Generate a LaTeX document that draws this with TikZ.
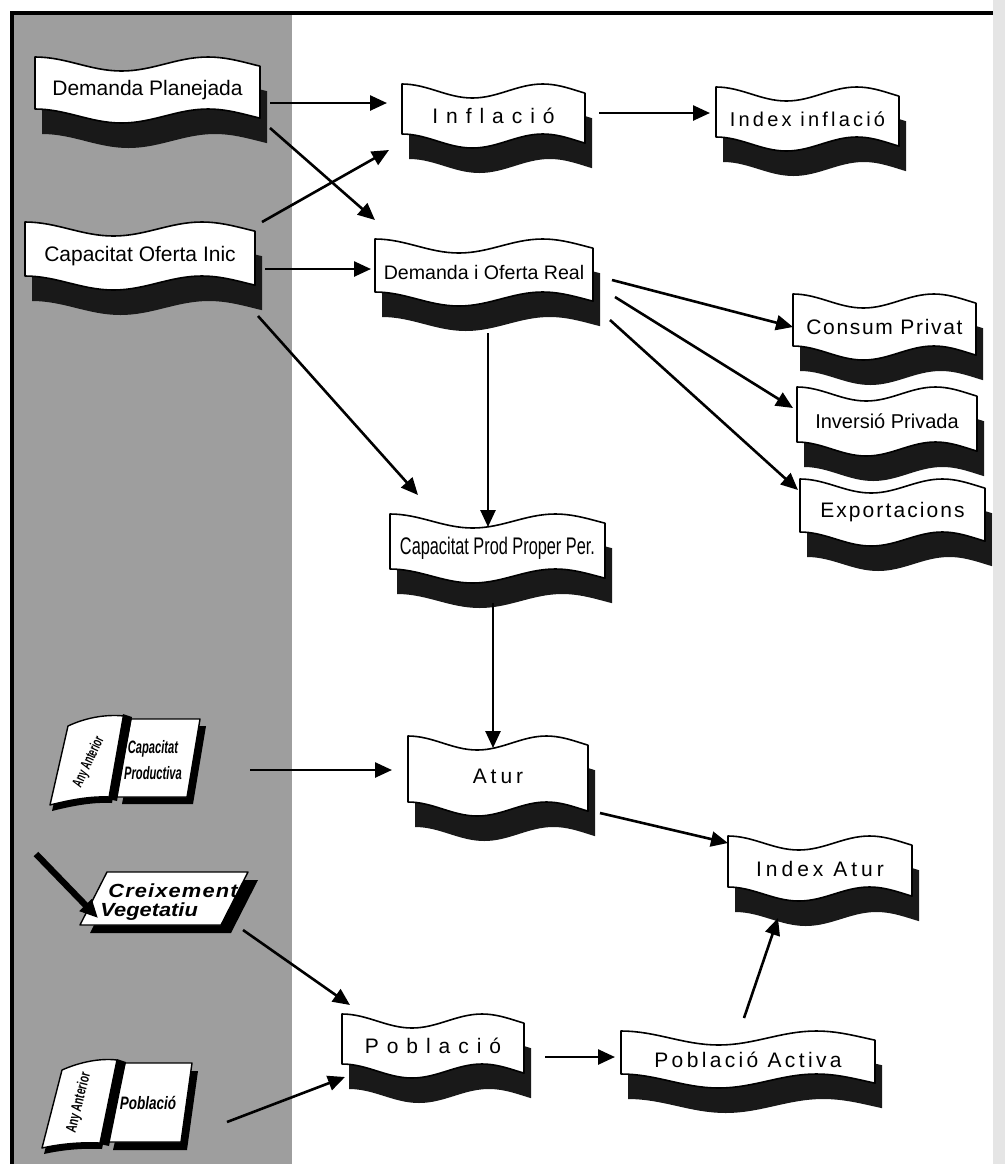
\documentclass[tikz,border=0pt]{standalone}
\usepackage{fontspec}
\setmainfont{Liberation Sans}
\usetikzlibrary{arrows.meta, calc}
\tikzset{
		arr/.style={-{Triangle[length=8.5pt,width=7.5pt]}, line width=1.3pt},
		flag label/.style={inner sep=0pt, outer sep=0pt, align=center},
		flag edge/.style={draw=black, line width=0.8pt, fill=white, line join=round},
		flag shadow/.style={fill=black!90},
		panel/.style={fill=black!38},
		page/.style={draw=black, line width=0.7pt, fill=white, line join=round},
		icon text/.style={inner sep=0pt, outer sep=0pt, align=center}
	}
\newcommand{\spaced}[2]{{\addfontfeature{LetterSpace=#1}#2}}
\newcommand{\squeeze}[2]{{\addfontfeature{FakeStretch=#1}#2}}
% wavy banner: name, centre, width, height, text
\newcommand{\flag}[5]{%
	\begin{scope}[shift={(#2)}]
		\fill[flag shadow, shift={(7,25)}]
			plot[domain=-#3/2:#3/2, samples=40] (\x, {-#4/2-7*cos(468*(\x/#3+0.5))})
			-- plot[domain=#3/2:-#3/2, samples=40] (\x, {#4/2-7*cos(468*(\x/#3+0.5))}) -- cycle;
		\path[flag edge]
			plot[domain=-#3/2:#3/2, samples=40] (\x, {-#4/2-7*cos(468*(\x/#3+0.5))})
			-- plot[domain=#3/2:-#3/2, samples=40] (\x, {#4/2-7*cos(468*(\x/#3+0.5))}) -- cycle;
	\end{scope}
	\node[flag label, minimum width=#3*0.5pt, minimum height=(#4+12)*0.5pt] (#1) at (#2) {#5};
}

\begin{document}
\begin{tikzpicture}[x=0.5pt, y=-0.5pt]
		\useasboundingbox (0,0) rectangle (1005,1164);
		\fill[black!10] (993,0) rectangle (1005,1164);
		\fill[panel] (12,13) rectangle (292,1164);
		\draw[line width=1.8pt] (12,1164) -- (12,13) -- (993,13);

		\flag{demPlan}{147.5,90}{225}{52}{\fontsize{10.5}{12}\selectfont Demanda Planejada}
		\flag{capOferta}{140,256}{230}{54}{\fontsize{10.5}{12}\selectfont Capacitat Oferta Inic}
		\flag{inflacio}{493.5,116}{183}{50}{\fontsize{10.5}{12}\selectfont\spaced{38}{Inflació}}
		\flag{idxInfl}{807.5,119}{183}{50}{\fontsize{10}{12}\selectfont\spaced{16}{Index inflació}}
		\flag{demOferta}{484,272.5}{218}{53}{\fontsize{9.8}{12}\selectfont Demanda i Oferta Real}
		\flag{consum}{884.5,327}{183}{52}{\fontsize{10.5}{12}\selectfont\spaced{8}{Consum Privat}}
		\flag{inversio}{887,421.5}{180}{55}{\fontsize{10}{12}\selectfont Inversió Privada}
		\flag{export}{892.5,512.5}{185}{53}{\fontsize{10.5}{12}\selectfont\spaced{10}{Exportacions}}
		\flag{capProd}{497.5,548.5}{215}{55}{\fontsize{12}{12}\selectfont\squeeze{0.68}{Capacitat Prod Proper Per.}}
		\flag{atur}{498,776}{180}{66}{\fontsize{10.5}{12}\selectfont\spaced{19}{Atur}}
		\flag{idxAtur}{820,868.5}{184}{51}{\fontsize{10.5}{12}\selectfont\spaced{19}{Index Atur}}
		\flag{poblacio}{433,1046}{182}{50}{\fontsize{10.5}{12}\selectfont\spaced{38}{Població}}
		\flag{pobActiva}{748,1059.5}{254}{43}{\fontsize{10.5}{12}\selectfont\spaced{16}{Població Activa}}

		% book: any anterior / capacitat productiva
		\fill[shift={(2,6)}] (50,805) -- (68,726) .. controls (85,718) and (105,714) .. (124,716) -- (110,797) .. controls (90,796) and (70,800) .. (50,805) -- cycle;
		\path[page] (50,805) -- (68,726) .. controls (85,718) and (105,714) .. (124,716) -- (110,797) .. controls (90,796) and (70,800) .. (50,805) -- cycle;
		\fill[shift={(6,7)}] (131,719) -- (200,719) -- (187,797) -- (116,797) -- cycle;
		\path[page] (131,719) -- (200,719) -- (187,797) -- (116,797) -- cycle;
		\fill (123,714) -- (132,717) -- (117,801) -- (108,799) -- cycle;
		\node[icon text, rotate=65, font={\fontsize{7.5}{8}\selectfont\bfseries\addfontfeature{FakeStretch=0.6}}] (capAny) at (89,762) {Any Anterior};
		\node[icon text, font={\fontsize{9}{13}\selectfont\bfseries\itshape\addfontfeature{FakeStretch=0.62}}] (capAnt) at (153,760) {Capacitat\\Productiva};

		% creixement vegetatiu
		\fill[shift={(10,8)}] (107,872) -- (248,872) -- (221,925) -- (80,925) -- cycle;
		\path[page] (107,872) -- (248,872) -- (221,925) -- (80,925) -- cycle;
		\coordinate (penTop) at (36,854);
		\coordinate (penTip) at (98,918);
		\draw[line width=3.2pt, -{Triangle[length=9pt,width=8pt]}] (penTop) -- (penTip);
		\node[icon text, align=left, font={\fontsize{9.5}{9.5}\selectfont\bfseries\itshape\addfontfeature{FakeStretch=1.15}}] (creix) at (169,902) {\hspace*{4pt}\spaced{6}{Creixement}\\Vegetatiu};

		% book: any anterior / poblacio
		\fill[shift={(2,6)}] (42,1148) -- (62,1070) .. controls (80,1062) and (100,1058) .. (117,1060) -- (100,1143) .. controls (80,1142) and (60,1144) .. (42,1148) -- cycle;
		\path[page] (42,1148) -- (62,1070) .. controls (80,1062) and (100,1058) .. (117,1060) -- (100,1143) .. controls (80,1142) and (60,1144) .. (42,1148) -- cycle;
		\fill[shift={(6,8)}] (125,1063) -- (192,1063) -- (181,1142) -- (107,1142) -- cycle;
		\path[page] (125,1063) -- (192,1063) -- (181,1142) -- (107,1142) -- cycle;
		\fill (117,1059) -- (126,1062) -- (109,1146) -- (100,1144) -- cycle;
		\node[icon text, rotate=76, font={\fontsize{7.5}{8}\selectfont\bfseries\addfontfeature{FakeStretch=0.68}}] (pobAny) at (79,1103) {Any Anterior};
		\node[icon text, font={\fontsize{9}{10}\selectfont\bfseries\itshape\addfontfeature{FakeStretch=0.75}}] (pobAnt) at (148,1103) {Població};

		\path[arr] ($(demPlan.east)+(10,13)$)        edge ($(inflacio.west)+(-15,-13)$);
		\path[arr] ($(demPlan.south east)+(10,6)$)   edge ($(demOferta.north west)+(0,-20)$);
		\path[arr] ($(capOferta.north east)+(7,-1)$) edge ($(inflacio.south west)+(-13,3)$);
		\path[arr] ($(capOferta.east)+(10,13)$)      edge ($(demOferta.west)+(-4,-3.5)$);
		\path[arr] ($(capOferta.south east)+(3,27)$) edge ($(capProd.north west)+(28,-20)$);
		\path[arr] ($(inflacio.east)+(14,-3)$)       edge ($(idxInfl.west)+(-6,-6)$);
		\path[arr] ($(demOferta.east)+(19,7.5)$)     edge (consum.west);
		\path[arr] ($(demOferta.east)+(22,24.5)$)    edge ($(inversio.west)+(-4,-13.5)$);
		\path[arr] ($(demOferta.east)+(17,47.5)$)    edge ($(export.west)+(-2,-22.5)$);
		\path[arr] ($(demOferta.south)+(4,28)$)      edge ($(capProd.north)+(-9.5,12)$);
		\path[arr] ($(capProd.south)+(-4.5,21)$)     edge ($(atur.north)+(-5,11)$);
		\path[arr] ($(capAnt)+(97,10)$)              edge ($(atur.west)+(-16,-6)$);
		\path[arr] ($(atur.east)+(12,37)$)           edge ($(idxAtur.west)+(0,-25.5)$);
		\path[arr] ($(pobActiva.north)+(-4,-14)$)    edge ($(idxAtur.south)+(-42,18)$);
		\path[arr] ($(creix)+(74,28)$)               edge ($(poblacio.north west)+(8,-10)$);
		\path[arr] ($(pobAnt)+(79,19)$)              edge ($(poblacio.south west)+(3,0)$);
		\path[arr] ($(poblacio.east)+(21,11)$)       edge ($(pobActiva.west)+(-6,-2.5)$);

	\end{tikzpicture}
\end{document}
